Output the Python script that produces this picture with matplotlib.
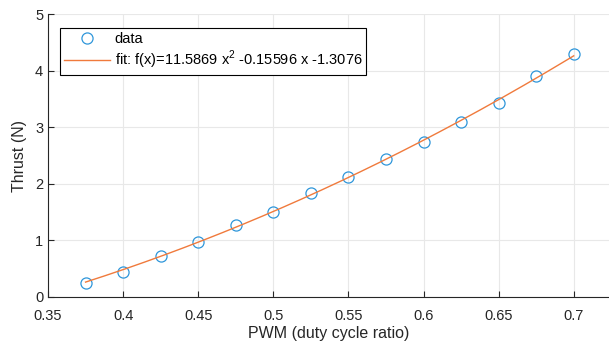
import numpy as np
import matplotlib.pyplot as plt

plt.rcParams['font.family'] = ['Liberation Sans', 'DejaVu Sans']
plt.rcParams['mathtext.fontset'] = 'custom'
plt.rcParams['mathtext.rm'] = 'Liberation Sans'

pwm = [0.375, 0.4, 0.425, 0.45, 0.475, 0.5, 0.525, 0.55, 0.575, 0.6, 0.625, 0.65, 0.675, 0.7]
thrust = [0.24, 0.45, 0.72, 0.98, 1.27, 1.51, 1.83, 2.12, 2.43, 2.73, 3.09, 3.43, 3.91, 4.30]
coef = [11.5869, -0.15596, -1.3076]  # fit: a x^2 + b x + c

xf = np.linspace(pwm[0], pwm[-1], 200)
yf = np.polyval(coef, xf)

dark = '#262626'
fig = plt.figure(figsize=(6.09, 3.5), dpi=100)
ax = fig.add_axes([48/609, 1 - 297/350, 1 - 48/609, (297 - 14)/350])

ax.plot(pwm, thrust, 'o', mfc='none', mec='#2E96DA', ms=8, mew=0.9, label='data')
ax.plot(xf, yf, '-', color='#F07A3C', lw=1.0,
        label='fit: f(x)=11.5869 x$^{\\mathrm{2}}$ -0.15596 x -1.3076')

ax.set_xlim(0.35, 0.7235)
ax.set_ylim(0, 5)
ax.set_xticks([0.35, 0.4, 0.45, 0.5, 0.55, 0.6, 0.65, 0.7])
ax.set_xticklabels(['0.35', '0.4', '0.45', '0.5', '0.55', '0.6', '0.65', '0.7'])
ax.set_yticks([0, 1, 2, 3, 4, 5])
ax.grid(True, color='#e8e8e8', lw=0.8)
ax.set_axisbelow(True)
for s in ['top', 'right']:
    ax.spines[s].set_visible(False)
for s in ['left', 'bottom']:
    ax.spines[s].set_color(dark)
    ax.spines[s].set_linewidth(0.8)
ax.tick_params(direction='in', length=4, width=0.8, colors=dark, labelsize=10.5)
ax.tick_params(axis='x', pad=9)
ax.set_xlabel('PWM (duty cycle ratio)', fontsize=11.5, color=dark, labelpad=2)
ax.set_ylabel('Thrust (N)', fontsize=11.5, color=dark, labelpad=6)

leg = ax.legend(loc='upper left', bbox_to_anchor=(12/561, 1 - 14/283), borderaxespad=0,
                fontsize=10.5, fancybox=False, framealpha=1, edgecolor='black',
                borderpad=0.25, handlelength=3.2, labelspacing=0.2, handletextpad=0.3)
leg.get_frame().set_linewidth(0.8)

fig.savefig('out.png', dpi=100)
